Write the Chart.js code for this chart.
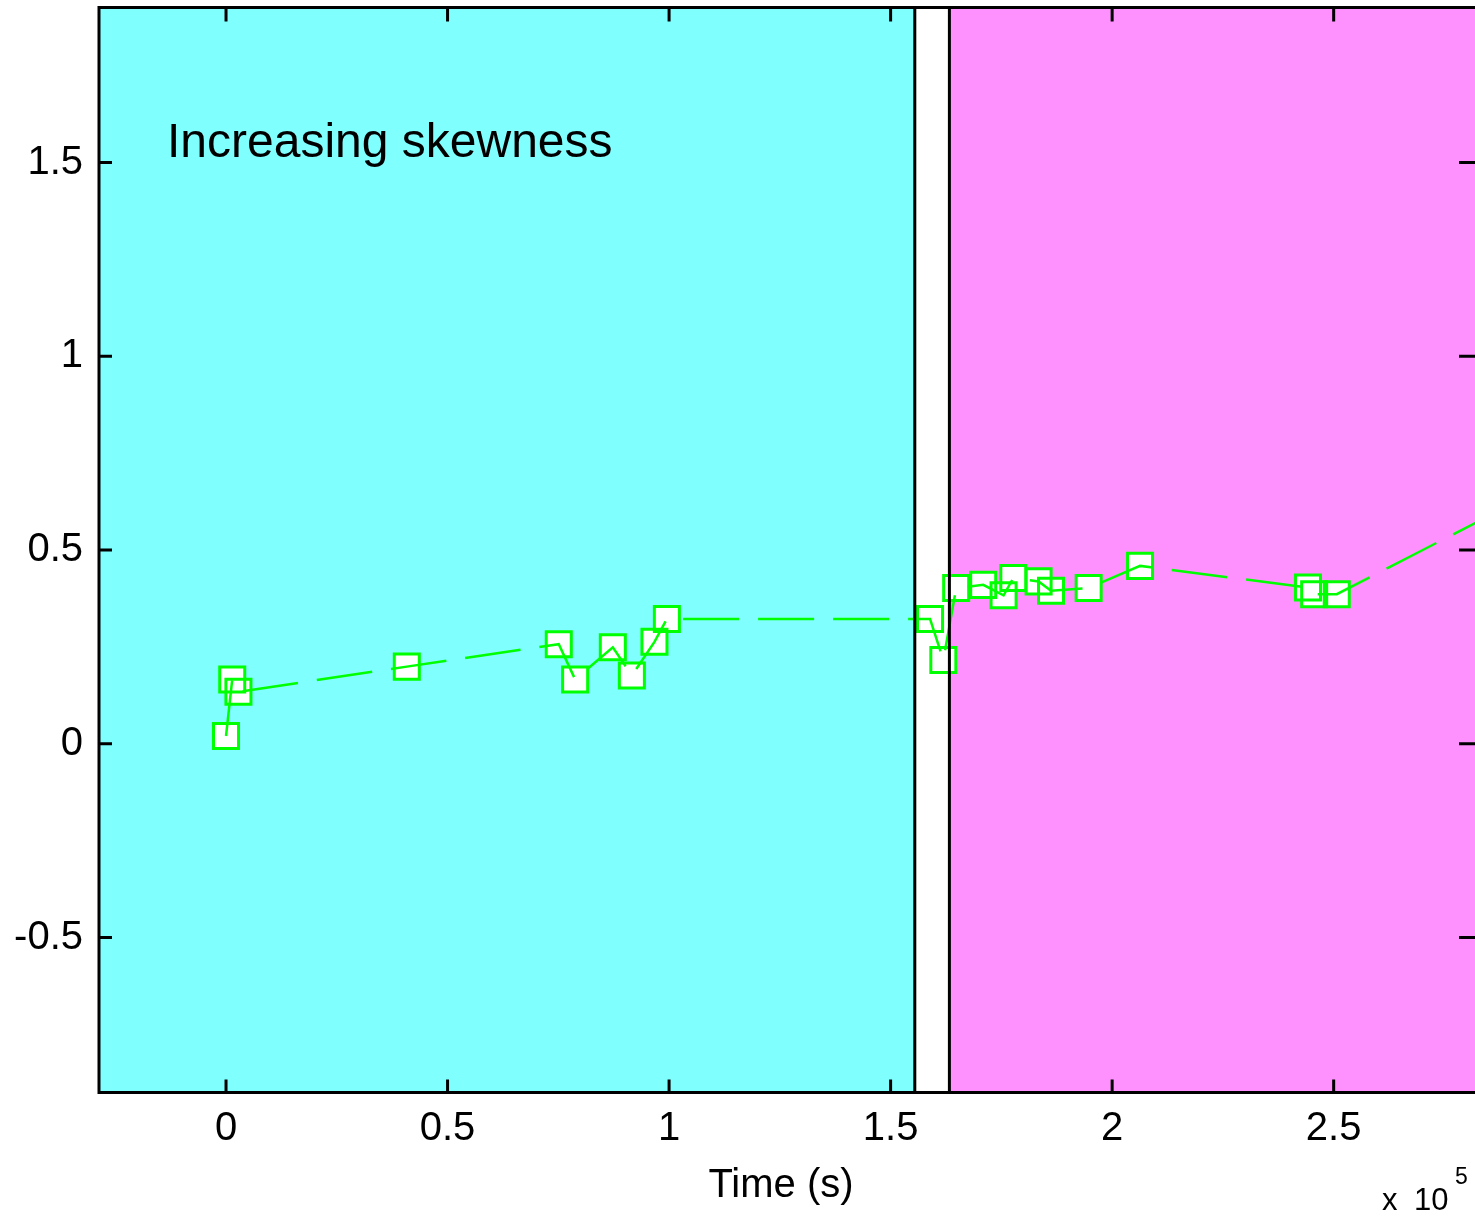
<!DOCTYPE html>
<html>
<head>
<meta charset="utf-8">
<script src="https://cdn.jsdelivr.net/npm/chart.js@4.4.1/dist/chart.umd.min.js"></script>
<style>
  html, body { margin: 0; padding: 0; background: #fff; }
  canvas { display: block; }
</style>
</head>
<body>
<canvas id="chart" width="1475" height="1227"></canvas>
<script>
// time is in units of 1e5 s (the "x 10^5" on the axis)
const times = [0.000, 0.014, 0.028, 0.408, 0.751, 0.788, 0.873, 0.916, 0.967, 0.995,
               1.589, 1.619, 1.648, 1.709, 1.755, 1.777, 1.834, 1.862, 1.947, 2.063,
               2.442, 2.456, 2.507, 2.900];
const skewness = [0.020, 0.166, 0.134, 0.199, 0.257, 0.166, 0.249, 0.176, 0.263, 0.322,
                  0.322, 0.216, 0.402, 0.410, 0.383, 0.428, 0.419, 0.395, 0.402, 0.459,
                  0.403, 0.386, 0.386, 0.617];
const xTicks = [0, 0.5, 1, 1.5, 2, 2.5];
const xLabels = ['0', '0.5', '1', '1.5', '2', '2.5'];
const yTicks = [-0.5, 0, 0.5, 1, 1.5];
const yLabels = ['-0.5', '0', '0.5', '1', '1.5'];
// where the cyan phase ends and the magenta phase starts
const phaseBounds = [1.5546, 1.6327];

const FONT = '"Liberation Sans", Arial, sans-serif';
const points = times.map((t, i) => ({ x: t, y: skewness[i] }));

// backgrounds, the two phase lines, axes box, inward ticks and all text
const framePlugin = {
  id: 'frame',
  beforeDatasetsDraw(chart) {
    const { ctx, chartArea: a, scales: { x } } = chart;
    const x1 = x.getPixelForValue(phaseBounds[0]);
    const x2 = x.getPixelForValue(phaseBounds[1]);
    ctx.save();
    ctx.fillStyle = '#80ffff';
    ctx.fillRect(a.left, a.top, x1 - a.left, a.bottom - a.top);
    ctx.fillStyle = '#ff91ff';
    ctx.fillRect(x2, a.top, a.right - x2, a.bottom - a.top);
    ctx.restore();
  },
  afterDatasetsDraw(chart) {
    const { ctx, chartArea: a, scales: { x } } = chart;
    ctx.save();
    ctx.strokeStyle = '#000';
    ctx.lineWidth = 3;
    phaseBounds.forEach(v => {
      const px = x.getPixelForValue(v);
      ctx.beginPath();
      ctx.moveTo(px, a.top);
      ctx.lineTo(px, a.bottom);
      ctx.stroke();
    });
    ctx.restore();
  },
  afterDraw(chart) {
    const { ctx, chartArea: a, scales: { x, y } } = chart;
    ctx.save();
    ctx.strokeStyle = '#000';
    ctx.lineWidth = 3;
    // box: left, top, bottom (right side runs off the picture)
    ctx.beginPath();
    ctx.moveTo(a.right + 2, a.top);
    ctx.lineTo(a.left, a.top);
    ctx.lineTo(a.left, a.bottom);
    ctx.lineTo(a.right + 2, a.bottom);
    ctx.stroke();

    // inward ticks
    ctx.beginPath();
    xTicks.forEach(v => {
      const px = x.getPixelForValue(v);
      ctx.moveTo(px, a.bottom); ctx.lineTo(px, a.bottom - 13);
      ctx.moveTo(px, a.top); ctx.lineTo(px, a.top + 14);
    });
    yTicks.forEach(v => {
      const py = y.getPixelForValue(v);
      ctx.moveTo(a.left, py); ctx.lineTo(a.left + 13, py);
      ctx.moveTo(a.right, py); ctx.lineTo(a.right - 16, py);
    });
    ctx.stroke();

    ctx.fillStyle = '#000';
    ctx.font = '40px ' + FONT;
    ctx.textBaseline = 'middle';
    ctx.textAlign = 'right';
    yTicks.forEach((v, i) => ctx.fillText(yLabels[i], a.left - 16, y.getPixelForValue(v)));
    ctx.textAlign = 'center';
    xTicks.forEach((v, i) => ctx.fillText(xLabels[i], x.getPixelForValue(v), a.bottom + 36));

    ctx.textBaseline = 'alphabetic';
    ctx.fillText('Time (s)', 781, 1197);

    ctx.textAlign = 'left';
    ctx.font = '31px ' + FONT;
    ctx.fillText('x', 1382, 1210);
    ctx.fillText('10', 1414, 1210);
    ctx.font = '23px ' + FONT;
    ctx.fillText('5', 1455, 1184);

    ctx.font = '48px ' + FONT;
    ctx.fillText('Increasing skewness', 167, 157);
    ctx.restore();
  }
};

new Chart(document.getElementById('chart'), {
  type: 'scatter',
  data: {
    datasets: [
      {
        // marker faces
        data: points,
        pointStyle: 'rect',
        pointRadius: 17.7,
        pointBackgroundColor: '#ffffff',
        pointBorderWidth: 0,
        pointBorderColor: 'rgba(0,0,0,0)',
        showLine: false,
        order: 3
      },
      {
        // marker edges
        data: points,
        pointStyle: 'rect',
        pointRadius: 17.7,
        pointBackgroundColor: 'rgba(0,0,0,0)',
        pointBorderColor: '#00ff00',
        pointBorderWidth: 3,
        showLine: false,
        order: 2
      },
      {
        // dashed line drawn over the markers
        data: points,
        showLine: true,
        borderColor: '#00ff00',
        borderWidth: 2.5,
        borderDash: [56, 19],
        pointRadius: 0,
        tension: 0,
        order: 1
      }
    ]
  },
  options: {
    responsive: false,
    animation: false,
    layout: { autoPadding: false, padding: { left: 99, top: 7.5, right: 0, bottom: 134.5 } },
    plugins: { legend: { display: false }, tooltip: { enabled: false } },
    scales: {
      x: { type: 'linear', min: -0.2867, max: 2.819, display: false },
      y: { type: 'linear', min: -0.9, max: 1.9, display: false }
    }
  },
  plugins: [framePlugin]
});
</script>
</body>
</html>
